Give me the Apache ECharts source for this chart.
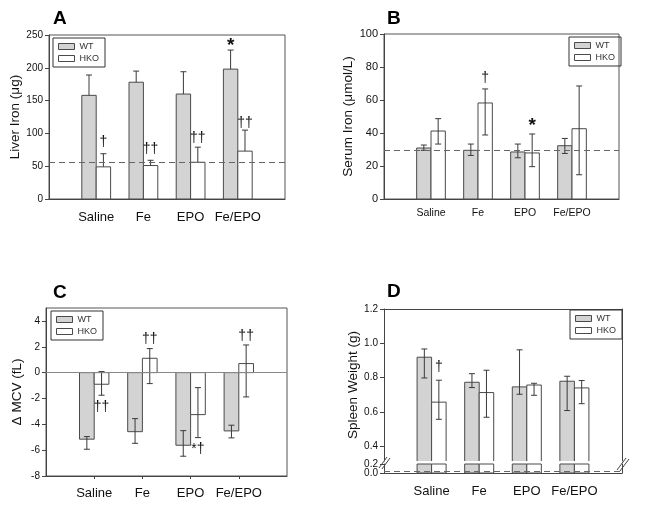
<!DOCTYPE html>
<html>
<head>
<meta charset="utf-8">
<script src="https://cdn.jsdelivr.net/npm/echarts@6/dist/echarts.min.js"></script>
<style>
html,body{margin:0;padding:0;background:#fff;}
#c{width:645px;height:514px;}
</style>
</head>
<body>
<div id="c"></div>
<script>
// ---------- data ----------
const cats = ['Saline', 'Fe', 'EPO', 'Fe/EPO'];
const seriesNames = ['WT', 'HKO'];
const catTicks = [1, 2, 3, 4];

// A: Liver iron (one-sided error bars)
const liverWT = [158, 178, 160, 198];
const liverWTHi = [189, 195, 194, 227];
const liverHKO = [49, 51, 56, 73];
const liverHKOHi = [69, 59, 79, 105];
const liverRef = 55.5;
const liverMarks = [[0, 1, 87, '†'], [1, 1, 76, '††'], [2, 1, 93, '††'], [3, 0, 234, '*'], [3, 1, 116, '††']];

// B: Serum iron
const serumWT = [30.9, 29.5, 28.5, 32.3];
const serumWTHi = [32.7, 33.3, 33.3, 36.7];
const serumWTLo = [29.5, 26.4, 25.0, 27.6];
const serumHKO = [41.2, 58.2, 27.9, 42.6];
const serumHKOHi = [48.7, 66.7, 39.4, 68.5];
const serumHKOLo = [33.3, 38.8, 19.6, 14.7];
const serumRef = 29.7;
const serumMarks = [[1, 1, 73, '†'], [2, 1, 44.5, '*']];

// C: delta MCV
const mcvWT = [-5.15, -4.57, -5.62, -4.51];
const mcvWTHi = [-4.95, -3.56, -4.49, -4.07];
const mcvWTLo = [-5.93, -5.47, -6.47, -5.05];
const mcvHKO = [-0.9, 1.11, -3.25, 0.7];
const mcvHKOHi = [0.08, 1.86, -1.16, 2.14];
const mcvHKOLo = [-1.75, -0.85, -5.03, -1.88];
const mcvZero = 0;
const mcvTicks = [-8, -6, -4, -2, 0, 2, 4];
const mcvMarks = [[0, 1, -2.7, '††'], [1, 1, 2.6, '††'], [2, 1, -5.93, '*†'], [3, 1, 2.8, '††']];

// D: Spleen weight (broken axis)
const spleenWT = [0.919, 0.773, 0.746, 0.779];
const spleenWTHi = [0.967, 0.823, 0.962, 0.808];
const spleenWTLo = [0.798, 0.742, 0.703, 0.608];
const spleenHKO = [0.657, 0.713, 0.757, 0.740];
const spleenHKOHi = [0.785, 0.843, 0.767, 0.783];
const spleenHKOLo = [0.557, 0.569, 0.697, 0.648];
const spleenRef = 0.05;
const spleenUpperTicks = [0.4, 0.6, 0.8, 1.0, 1.2];
const spleenLowerTicks = [0, 0.2];
const spleenMarks = [[0, 1, 0.861, '†']];

// ---------- styling ----------
const FONT = '"Liberation Sans", Arial, sans-serif';
const GREY = '#d3d3d3';
const EDGE = '#4a4a4a';
const FILLS = [GREY, '#ffffff'];

function barRender(params, api) {
  const cs = params.coordSys;
  const x = api.value(0), v = api.value(1), g = api.value(2);
  const band = api.size([1, 0])[0];
  const bw = band * 0.305;
  const cx = api.coord([x, 0])[0];
  const l = g === 0 ? cx - bw : cx;
  const r = l + bw;
  const yv = api.coord([x, v])[1], y0 = api.coord([x, 0])[1];
  let top = Math.min(yv, y0), bot = Math.max(yv, y0);
  const clipBot = bot > cs.y + cs.height + 0.5;
  top = Math.max(top, cs.y);
  bot = Math.min(bot, cs.y + cs.height);
  const children = [{
    type: 'rect', shape: {x: l, y: top, width: bw, height: bot - top},
    style: {fill: FILLS[g], stroke: null}
  }];
  if (clipBot) {
    children.push({type: 'polyline', shape: {points: [[l, bot], [l, top], [r, top], [r, bot]]},
      style: {fill: null, stroke: EDGE, lineWidth: 1}});
  } else {
    children.push({type: 'rect', shape: {x: l, y: top, width: bw, height: bot - top},
      style: {fill: null, stroke: EDGE, lineWidth: 1}});
  }
  return {type: 'group', children};
}

function errRender(params, api) {
  const x = api.value(0), v = api.value(1), hi = api.value(2), lo = api.value(3), g = api.value(4);
  const band = api.size([1, 0])[0];
  const bw = band * 0.305;
  const cx = api.coord([x, 0])[0];
  const mid = g === 0 ? cx - bw / 2 : cx + bw / 2;
  const yh = api.coord([x, hi])[1], yl = api.coord([x, lo])[1];
  const st = {stroke: '#3a3a3a', lineWidth: 1};
  const cw = 3;
  const children = [
    {type: 'line', shape: {x1: mid, y1: yh, x2: mid, y2: yl}, style: st},
    {type: 'line', shape: {x1: mid - cw, y1: yh, x2: mid + cw, y2: yh}, style: st}
  ];
  if (lo !== v) children.push({type: 'line', shape: {x1: mid - cw, y1: yl, x2: mid + cw, y2: yl}, style: st});
  return {type: 'group', children};
}

function makeMarkRender(marks) {
  return function (params, api) {
    const x = api.value(0), y = api.value(1), g = api.value(2);
    const band = api.size([1, 0])[0];
    const bw = band * 0.305;
    const cx = api.coord([x, 0])[0];
    const mid = g === 0 ? cx - bw / 2 : cx + bw / 2;
    const py = api.coord([x, y])[1];
    const t = marks[params.dataIndex][3];
    const big = t === '*';
    return {type: 'text', style: {text: t, x: mid, y: py, align: 'center', verticalAlign: 'middle',
      fontSize: big ? 19 : 14, fontWeight: big ? 'bold' : 'normal', fontFamily: FONT, fill: '#111'}};
  };
}

function bars(name, g, vals, xi, yi, extra) {
  return Object.assign({
    type: 'custom', name, xAxisIndex: xi, yAxisIndex: yi, renderItem: barRender, silent: true,
    itemStyle: {color: FILLS[g], borderColor: EDGE, borderWidth: 1},
    data: vals.map((v, i) => [i + 1, v, g]), z: 2
  }, extra || {});
}
function errs(name, g, vals, hi, lo, xi, yi) {
  return {
    type: 'custom', name, xAxisIndex: xi, yAxisIndex: yi, renderItem: errRender, silent: true,
    itemStyle: {color: FILLS[g], borderColor: EDGE, borderWidth: 1},
    data: vals.map((v, i) => [i + 1, v, hi[i], lo ? lo[i] : v, g]), z: 3
  };
}
function marksSeries(marks, xi, yi) {
  return {
    type: 'custom', xAxisIndex: xi, yAxisIndex: yi, renderItem: makeMarkRender(marks), silent: true,
    data: marks.map(m => [m[0] + 1, m[2], m[1]]), z: 4
  };
}
function refLine(val, dashed, color) {
  return {
    silent: true, symbol: ['none', 'none'], label: {show: false},
    lineStyle: {type: dashed ? [6, 4] : 'solid', color: color, width: 1},
    data: [{yAxis: val}], animation: false
  };
}

function xAxisFor(gi, fontSize, margin, tick, extra) {
  return Object.assign({
    gridIndex: gi, type: 'value', min: 0, max: 5, interval: 1,
    axisLine: {show: true, onZero: false, lineStyle: {color: '#444', width: 1}},
    axisTick: {show: tick, inside: false, length: 3, lineStyle: {color: '#444'}, customValues: catTicks},
    axisLabel: {show: true, fontSize, margin, color: '#111', fontFamily: FONT,
      formatter: v => cats[v - 1] || ''},
    splitLine: {show: false}
  }, extra || {});
}
function yAxisFor(gi, min, max, interval, fontSize, name, nameGap, extra) {
  return Object.assign({
    gridIndex: gi, type: 'value', min, max, interval,
    axisLine: {show: true, onZero: false, lineStyle: {color: '#444', width: 1}},
    axisTick: {show: true, inside: false, length: 4, lineStyle: {color: '#444'}},
    axisLabel: {fontSize, margin: 6, color: '#111', fontFamily: FONT},
    splitLine: {show: false},
    name, nameLocation: 'middle', nameGap, nameRotate: 90,
    nameTextStyle: {fontSize: 13.5, color: '#111', fontFamily: FONT}
  }, extra || {});
}
function legendAt(left, top) {
  return {
    left, top, orient: 'vertical', icon: 'rect', itemWidth: 16, itemHeight: 6, itemGap: 3,
    padding: [4, 6, 4, 5], borderColor: '#333', borderWidth: 1, selectedMode: false,
    textStyle: {fontSize: 9, color: '#333', fontFamily: FONT},
    data: [
      {name: seriesNames[0], itemStyle: {color: GREY, borderColor: EDGE, borderWidth: 1}},
      {name: seriesNames[1], itemStyle: {color: '#fff', borderColor: EDGE, borderWidth: 1}}
    ]
  };
}
const frame = {show: true, borderColor: '#555', borderWidth: 1, backgroundColor: 'transparent'};
const titleStyle = {fontSize: 19, fontWeight: 'bold', color: '#000', fontFamily: FONT};
function lowerLabelAxis(val, showLine) {
  return yAxisFor(4, 0, 0.2, 0.2, 10, '', 0, {
    axisLine: {show: showLine, onZero: false, lineStyle: {color: '#444', width: 1}},
    axisLabel: {fontSize: 10, margin: 6, color: '#111', fontFamily: FONT, customValues: [val],
      showMinLabel: true, showMaxLabel: true, hideOverlap: false, formatter: v => v.toFixed(1)},
    axisTick: {show: true, inside: false, length: 4, lineStyle: {color: '#444'}, customValues: [val]}
  });
}

const option = {
  animation: false,
  backgroundColor: '#ffffff',
  textStyle: {fontFamily: FONT},
  title: [
    {text: 'A', left: 53, top: 9, padding: 0, textStyle: titleStyle},
    {text: 'B', left: 387, top: 9, padding: 0, textStyle: titleStyle},
    {text: 'C', left: 53, top: 283, padding: 0, textStyle: titleStyle},
    {text: 'D', left: 387, top: 282, padding: 0, textStyle: titleStyle}
  ],
  legend: [legendAt(53, 38), legendAt(569, 37), legendAt(51, 311), legendAt(570, 310)],
  grid: [
    Object.assign({left: 49, top: 35, width: 236, height: 164}, frame),
    Object.assign({left: 384, top: 34, width: 235, height: 165}, frame),
    Object.assign({left: 46, top: 308, width: 241, height: 168}, frame),
    {left: 384, top: 309, width: 238, height: 152},
    {left: 384, top: 464, width: 238, height: 9}
  ],
  xAxis: [
    xAxisFor(0, 13, 12, false),
    xAxisFor(1, 10.5, 9, false),
    xAxisFor(2, 13, 11, true),
    xAxisFor(3, 13, 10, false, {position: 'top', axisLabel: {show: false}, axisTick: {show: false}}),
    xAxisFor(4, 13, 12, false)
  ],
  yAxis: [
    yAxisFor(0, 0, 250, 50, 10, 'Liver Iron (μg)', 24),
    yAxisFor(1, 0, 100, 20, 11, 'Serum Iron (μmol/L)', 22),
    yAxisFor(2, -8, 5, 2, 10, 'Δ MCV (fL)', 22, {
      axisLabel: {fontSize: 10, margin: 6, color: '#111', fontFamily: FONT, customValues: mcvTicks},
      axisTick: {show: true, inside: false, length: 4, lineStyle: {color: '#444'}, customValues: mcvTicks}
    }),
    yAxisFor(3, 0.314, 1.2, null, 10, 'Spleen Weight (g)', 22, {
      axisLabel: {fontSize: 10, margin: 6, color: '#111', fontFamily: FONT, customValues: spleenUpperTicks, formatter: v => v.toFixed(1)},
      axisTick: {show: true, inside: false, length: 4, lineStyle: {color: '#444'}, customValues: spleenUpperTicks}
    }),
    yAxisFor(3, 0.314, 1.2, null, 10, '', 0, {position: 'right', axisLabel: {show: false}, axisTick: {show: false}}),
    lowerLabelAxis(spleenLowerTicks[0], true),
    yAxisFor(4, 0, 0.2, 0.2, 10, '', 0, {position: 'right', axisLabel: {show: false}, axisTick: {show: false}}),
    Object.assign(lowerLabelAxis(spleenLowerTicks[1], false), {position: 'left', offset: 0})
  ],
  graphic: [
    {type: 'line', shape: {x1: 379, y1: 468, x2: 387, y2: 457}, style: {stroke: '#444', lineWidth: 1}},
    {type: 'line', shape: {x1: 382, y1: 469, x2: 390, y2: 458}, style: {stroke: '#444', lineWidth: 1}},
    {type: 'line', shape: {x1: 617, y1: 470, x2: 626, y2: 458}, style: {stroke: '#444', lineWidth: 1}},
    {type: 'line', shape: {x1: 620, y1: 471, x2: 629, y2: 459}, style: {stroke: '#444', lineWidth: 1}}
  ],
  series: [
    // A
    bars('WT', 0, liverWT, 0, 0, {markLine: refLine(liverRef, true, '#666')}),
    bars('HKO', 1, liverHKO, 0, 0),
    errs('WT', 0, liverWT, liverWTHi, null, 0, 0),
    errs('HKO', 1, liverHKO, liverHKOHi, null, 0, 0),
    marksSeries(liverMarks, 0, 0),
    // B
    bars('WT', 0, serumWT, 1, 1, {markLine: refLine(serumRef, true, '#666')}),
    bars('HKO', 1, serumHKO, 1, 1),
    errs('WT', 0, serumWT, serumWTHi, serumWTLo, 1, 1),
    errs('HKO', 1, serumHKO, serumHKOHi, serumHKOLo, 1, 1),
    marksSeries(serumMarks, 1, 1),
    // C
    bars('WT', 0, mcvWT, 2, 2, {markLine: refLine(mcvZero, false, '#888')}),
    bars('HKO', 1, mcvHKO, 2, 2),
    errs('WT', 0, mcvWT, mcvWTHi, mcvWTLo, 2, 2),
    errs('HKO', 1, mcvHKO, mcvHKOHi, mcvHKOLo, 2, 2),
    marksSeries(mcvMarks, 2, 2),
    // D upper
    bars('WT', 0, spleenWT, 3, 3),
    bars('HKO', 1, spleenHKO, 3, 3),
    errs('WT', 0, spleenWT, spleenWTHi, spleenWTLo, 3, 3),
    errs('HKO', 1, spleenHKO, spleenHKOHi, spleenHKOLo, 3, 3),
    marksSeries(spleenMarks, 3, 3),
    // D lower (broken segment)
    bars('WT', 0, spleenWT, 4, 5, {markLine: refLine(spleenRef, true, '#666')}),
    bars('HKO', 1, spleenHKO, 4, 5)
  ]
};

const chart = echarts.init(document.getElementById('c'), null, {renderer: 'canvas'});
chart.setOption(option);
</script>
</body>
</html>
